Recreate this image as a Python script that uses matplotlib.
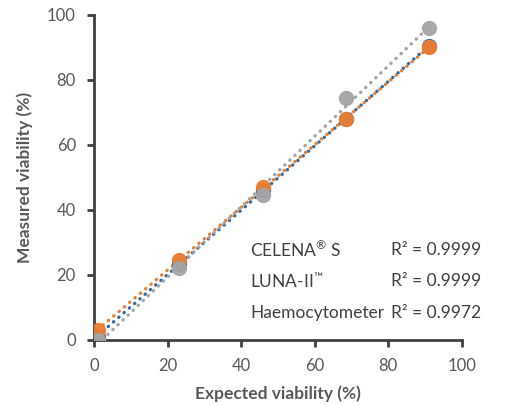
import numpy as np
import matplotlib.pyplot as plt

plt.rcParams['font.family'] = ['Lato', 'DejaVu Sans']
plt.rcParams['mathtext.fontset'] = 'custom'
plt.rcParams['mathtext.rm'] = 'Lato'
plt.rcParams['mathtext.it'] = 'Lato'

expected = [1, 23, 46, 68.5, 91]
celena = [1, 23.5, 46, 68, 90.5]
luna = [3, 24.5, 47, 68, 90]
haemo = [0, 22, 44.5, 74.5, 96]

names = ['CELENA$^{\u00ae}$ S', 'LUNA-II$^{\u2122}$', 'Haemocytometer']
r2_labels = ['R\u00b2 = 0.9999', 'R\u00b2 = 0.9999', 'R\u00b2 = 0.9972']
colors = ['#2E6DA8', '#ED7D31', '#A5A5A5']

fig = plt.figure(figsize=(5.15, 4.05), dpi=100)
ax = fig.add_axes([0.1825, 0.1605, 0.7145, 0.8025])

x = np.array(expected)
for ys, c, z in zip([celena, luna, haemo], colors, [3, 4, 5]):
    ys = np.array(ys)
    m, b = np.polyfit(x, ys, 1)
    xx = np.array([x.min(), x.max()])
    ax.plot(xx, m * xx + b, color=c, lw=2.4, linestyle=(0, (0.1, 2.0)),
            dash_capstyle='round', zorder=z)
    ax.plot(x, ys, 'o', color=c, ms=10, zorder=z + 3, alpha=0.95)

ax.set_xlim(0, 100)
ax.set_ylim(0, 100)
ax.set_xticks(range(0, 101, 20))
ax.set_yticks(range(0, 101, 20))
for s in ['top', 'right']:
    ax.spines[s].set_visible(False)
for s in ['left', 'bottom']:
    ax.spines[s].set_color('#404040')
    ax.spines[s].set_linewidth(2)
ax.tick_params(colors='#404040', width=2, length=5, labelsize=12,
               labelcolor='#595959', pad=8)
ax.set_xlabel('Expected viability (%)', fontsize=12.5, fontweight='bold',
              color='#595959', labelpad=8)
ax.set_ylabel('Measured viability (%)', fontsize=12.5, fontweight='bold',
              color='#595959', labelpad=10)

for i, (n, r) in enumerate(zip(names, r2_labels)):
    yy = 27.7 - i * 9.7
    ax.text(42.4, yy, n, fontsize=12.5, color='#404040', va='center')
    ax.text(80.8, yy, r, fontsize=12.5, color='#404040', va='center')

fig.savefig('out.png', dpi=100)
